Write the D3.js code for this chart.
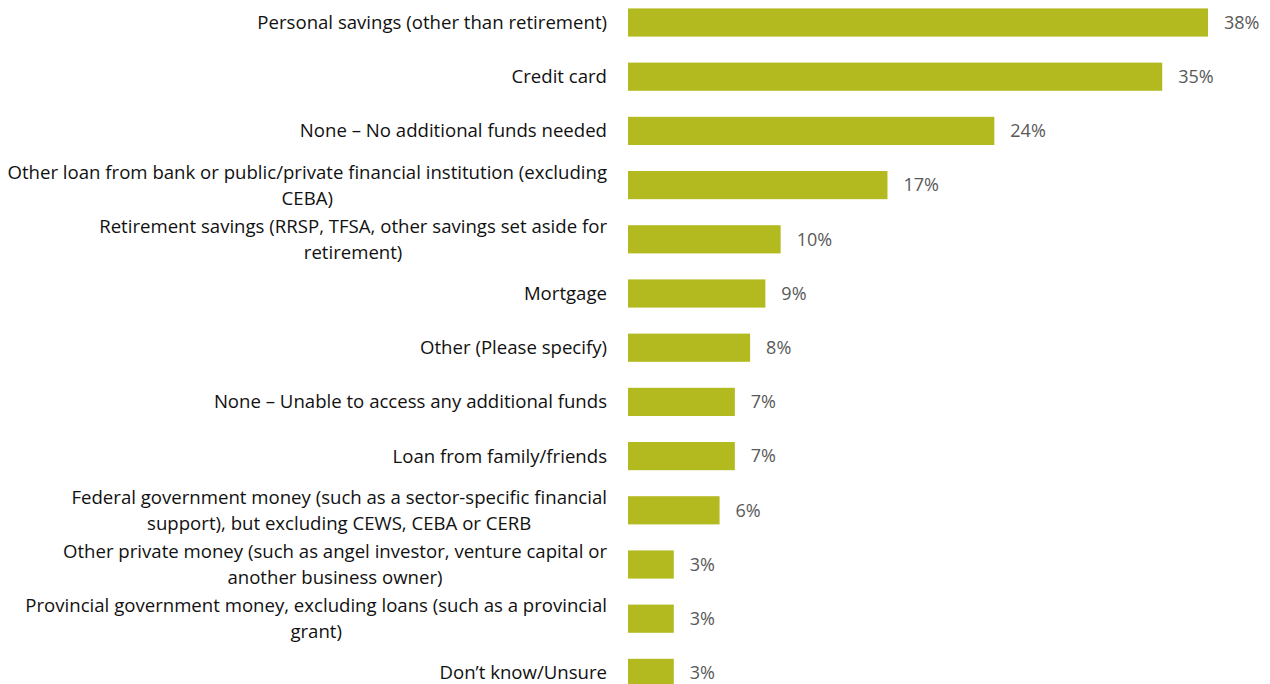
<!DOCTYPE html>
<html>
<head>
<meta charset="utf-8">
<script src="https://cdn.jsdelivr.net/npm/d3@7/dist/d3.min.js"></script>
<style>
  html, body { margin: 0; padding: 0; background: #fff; }
  svg { display: block; }
  text { font-family: "Open Sans", Lato, sans-serif; }
</style>
</head>
<body>
<svg id="chart" width="1270" height="684"></svg>
<script>
// Sources of funds, share of respondents (%)
const categories = [
  "Personal savings (other than retirement)",
  "Credit card",
  "None – No additional funds needed",
  "Other loan from bank or public/private financial institution (excluding\nCEBA)",
  "Retirement savings (RRSP, TFSA, other savings set aside for\nretirement)",
  "Mortgage",
  "Other (Please specify)",
  "None – Unable to access any additional funds",
  "Loan from family/friends",
  "Federal government money (such as a sector-specific financial\nsupport), but excluding CEWS, CEBA or CERB",
  "Other private money (such as angel investor, venture capital or\nanother business owner)",
  "Provincial government money, excluding loans (such as a provincial\ngrant)",
  "Don’t know/Unsure"
];
const values = [38, 35, 24, 17, 10, 9, 8, 7, 7, 6, 3, 3, 3];
const valueLabels = values.map(v => v + "%");

const svg = d3.select("#chart");
const fontSize = 18.6;
const valueFontSize = 18;
const lineGap = 26;
const labelRight = 607;

const x = d3.scaleLinear().domain([0, 38]).range([628, 1208]);
const y = d3.scaleBand()
  .domain(categories)
  .range([-4.6, 700])
  .paddingInner(0.48)
  .paddingOuter(0.24);

const rows = categories.map((c, i) => ({ cat: c, value: values[i], label: valueLabels[i] }));

// Bars
svg.append("g").selectAll("rect")
  .data(rows)
  .join("rect")
  .attr("x", x(0))
  .attr("y", d => y(d.cat))
  .attr("width", d => x(d.value) - x(0))
  .attr("height", y.bandwidth())
  .attr("fill", "#B3BA1F");

// Value labels
svg.append("g").selectAll("text")
  .data(rows)
  .join("text")
  .attr("x", d => x(d.value) + 16)
  .attr("y", d => y(d.cat) + y.bandwidth() / 2)
  .attr("dy", "0.35em")
  .attr("font-size", valueFontSize)
  .attr("fill", "#595959")
  .text(d => d.label);

// Category labels: block right-aligned, lines centred within the block
const catG = svg.append("g");
rows.forEach(d => {
  const lines = d.cat.split("\n");
  const cy = y(d.cat) + y.bandwidth() / 2;
  const g = catG.append("g");
  const texts = lines.map((ln, k) => g.append("text")
    .attr("y", cy + (k - (lines.length - 1) / 2) * lineGap)
    .attr("dy", "0.35em")
    .attr("font-size", fontSize)
    .attr("fill", "#111")
    .attr("text-anchor", "middle")
    .text(ln));
  const maxW = d3.max(texts, t => t.node().getComputedTextLength());
  texts.forEach(t => t.attr("x", labelRight - maxW / 2));
});
</script>
</body>
</html>
